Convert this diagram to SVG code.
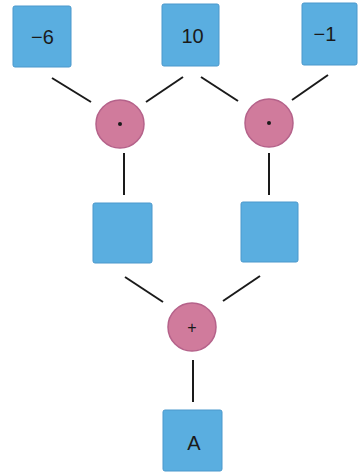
<svg xmlns="http://www.w3.org/2000/svg" width="360" height="473" viewBox="0 0 360 473">
<style>
.box{fill:#5aaee0;stroke:#4b98cc;stroke-width:1}
.op{fill:#d07b9c;stroke:#b5628a;stroke-width:1.5}
.lbl{font-family:"Liberation Sans",Arial,sans-serif;font-size:20px;fill:#1a1a1a;text-anchor:middle}
.sym{font-family:"Liberation Sans",Arial,sans-serif;font-size:16px;fill:#1a1a1a;text-anchor:middle}
.ln{stroke:#1a1a1a;stroke-width:2;fill:none;stroke-linecap:butt}
</style>
<rect width="360" height="473" fill="#ffffff"/>
<g id="connectors">
<line class="ln" x1="52" y1="78" x2="91" y2="102"/>
<line class="ln" x1="183" y1="77" x2="146" y2="102"/>
<line class="ln" x1="201" y1="77" x2="238" y2="101"/>
<line class="ln" x1="328" y1="75" x2="292" y2="100"/>
<line class="ln" x1="124" y1="153" x2="124" y2="195"/>
<line class="ln" x1="269" y1="153" x2="269" y2="195"/>
<line class="ln" x1="125" y1="277" x2="163" y2="302"/>
<line class="ln" x1="260" y1="276" x2="223" y2="301"/>
<line class="ln" x1="193" y1="360" x2="193" y2="402"/>
</g>
<g id="n-6"><rect class="box" x="13" y="6" width="58" height="61" rx="2"/><text class="lbl" x="42.5" y="44">−6</text></g>
<g id="n10"><rect class="box" x="162" y="4" width="57" height="62" rx="2"/><text class="lbl" x="192.5" y="43">10</text></g>
<g id="n-1"><rect class="box" x="302" y="3" width="55" height="62" rx="2"/><text class="lbl" x="325" y="41">−1</text></g>
<g id="mul1"><circle class="op" cx="120" cy="124" r="24"/><circle cx="120" cy="124" r="2" fill="#1a1a1a"/></g>
<g id="mul2"><circle class="op" cx="269" cy="123" r="24"/><circle cx="269" cy="123" r="2" fill="#1a1a1a"/></g>
<g id="mid1"><rect class="box" x="93" y="203" width="59" height="60" rx="2"/></g>
<g id="mid2"><rect class="box" x="241" y="202" width="57" height="60" rx="2"/></g>
<g id="add"><circle class="op" cx="192" cy="327" r="24"/><text class="sym" x="192" y="333">+</text></g>
<g id="nA"><rect class="box" x="163" y="410" width="59" height="61" rx="2"/><text class="lbl" x="194" y="450">A</text></g>
</svg>
